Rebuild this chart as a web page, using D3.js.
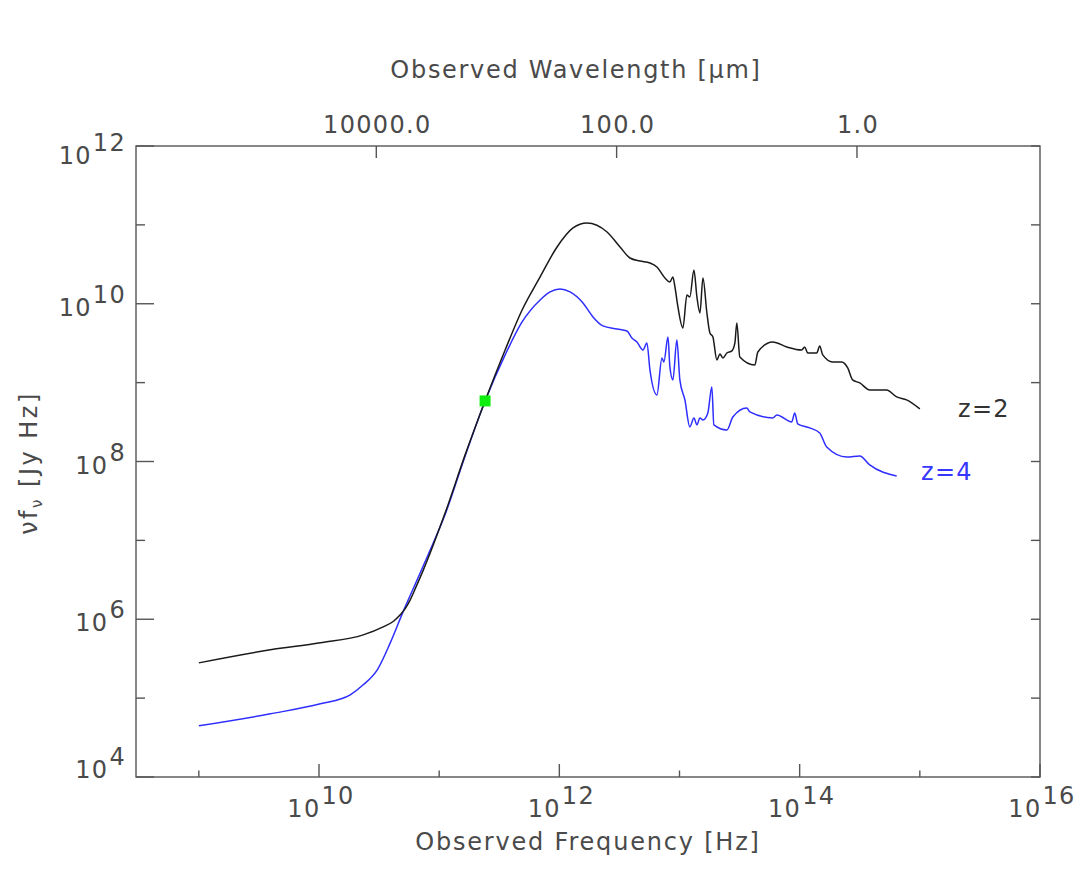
<!DOCTYPE html>
<html>
<head>
<meta charset="utf-8">
<script src="https://cdn.jsdelivr.net/npm/d3@7"></script>
<style>
  html, body { margin: 0; padding: 0; background: #ffffff; }
  svg { display: block; }
  text { font-family: "DejaVu Sans", sans-serif; fill: #4a4a4a; letter-spacing: 1.3px; }
</style>
</head>
<body>
<svg id="chart" width="1081" height="879"></svg>
<script>
// Spectral energy distribution of the same galaxy template placed at z=2 and z=4.
// Frequencies and fluxes are log10 values (Hz, Jy Hz).
const z2LogFreq = [9.000, 9.595, 10.011, 10.368, 10.534, 10.620, 10.676, 10.720, 10.759, 10.810, 10.867, 11.050, 11.216, 11.382, 11.549, 11.690, 11.840, 11.981, 12.114, 12.230, 12.397, 12.505, 12.588, 12.671, 12.754, 12.812, 12.879, 12.920, 12.945, 12.962, 12.987, 13.028, 13.062, 13.086, 13.120, 13.145, 13.170, 13.195, 13.228, 13.253, 13.278, 13.311, 13.336, 13.361, 13.394, 13.436, 13.461, 13.477, 13.502, 13.627, 13.652, 13.776, 13.893, 14.017, 14.042, 14.067, 14.142, 14.167, 14.192, 14.275, 14.350, 14.400, 14.441, 14.500, 14.583, 14.724, 14.807, 14.890, 15.000];
const z2LogFlux = [5.447, 5.612, 5.701, 5.802, 5.904, 5.975, 6.056, 6.140, 6.246, 6.420, 6.620, 7.349, 8.084, 8.768, 9.414, 9.921, 10.340, 10.720, 10.961, 11.024, 10.910, 10.720, 10.580, 10.542, 10.517, 10.466, 10.327, 10.276, 10.340, 10.213, 9.959, 9.693, 10.112, 10.086, 10.428, 10.086, 9.883, 10.327, 9.883, 9.630, 9.579, 9.288, 9.364, 9.313, 9.376, 9.402, 9.503, 9.757, 9.326, 9.224, 9.389, 9.516, 9.452, 9.414, 9.452, 9.376, 9.376, 9.465, 9.351, 9.262, 9.262, 9.186, 9.034, 8.996, 8.907, 8.907, 8.819, 8.781, 8.667];

const z4LogFreq = [9.000, 9.595, 10.011, 10.260, 10.368, 10.485, 10.593, 10.701, 10.817, 10.900, 11.050, 11.216, 11.382, 11.549, 11.690, 11.840, 11.923, 12.006, 12.089, 12.197, 12.280, 12.363, 12.480, 12.563, 12.604, 12.646, 12.696, 12.729, 12.754, 12.812, 12.854, 12.870, 12.904, 12.920, 12.945, 12.978, 13.003, 13.045, 13.086, 13.120, 13.145, 13.170, 13.195, 13.236, 13.269, 13.286, 13.394, 13.444, 13.560, 13.585, 13.776, 13.810, 13.934, 13.959, 13.984, 14.084, 14.167, 14.225, 14.392, 14.500, 14.583, 14.807];
const z4LogFlux = [4.649, 4.801, 4.928, 5.042, 5.169, 5.359, 5.701, 6.100, 6.500, 6.790, 7.330, 8.071, 8.768, 9.351, 9.769, 10.048, 10.150, 10.188, 10.150, 10.010, 9.833, 9.719, 9.681, 9.655, 9.567, 9.516, 9.414, 9.503, 9.161, 8.844, 9.313, 9.262, 9.579, 9.199, 9.034, 9.541, 9.034, 8.781, 8.439, 8.553, 8.464, 8.553, 8.527, 8.616, 8.946, 8.464, 8.400, 8.565, 8.679, 8.629, 8.553, 8.591, 8.502, 8.616, 8.477, 8.426, 8.362, 8.185, 8.058, 8.071, 7.957, 7.817];

// Observed point (log10 Hz, log10 Jy Hz)
const markerLogFreq = [11.382];
const markerLogFlux = [8.768];

const seriesLabels = ["z=2", "z=4"];

// Axis ticks
const freqMajorExp = [10, 12, 14, 16];
const freqMinorExp = [9, 11, 13, 15];
const fluxMajorExp = [4, 6, 8, 10, 12];
const fluxMinorExp = [5, 7, 9, 11];
const wavelengthTicks = [10000, 100, 1];
const wavelengthTickLabels = ["10000.0", "100.0", "1.0"];

const C_UM = 2.998e14; // speed of light in micron / s

const svg = d3.select("#chart");
const L = 136, R = 1040, T = 146, B = 777;
const axisColor = "#555";

const x = d3.scaleLog().domain([3e8, 1e16]).range([L, R]);
const y = d3.scaleLog().domain([1e4, 1e12]).range([B, T]);
const xWave = d3.scaleLog().domain([C_UM / 3e8, C_UM / 1e16]).range([L, R]);

// Frame
svg.append("rect")
  .attr("x", L).attr("y", T).attr("width", R - L).attr("height", B - T)
  .attr("fill", "none").attr("stroke", axisColor).attr("stroke-width", 1.4);

const ticks = svg.append("g").attr("stroke", axisColor).attr("stroke-width", 1.4);

// Bottom frequency ticks (inward)
freqMajorExp.forEach(e => {
  const px = x(Math.pow(10, e));
  ticks.append("line").attr("x1", px).attr("x2", px).attr("y1", B).attr("y2", B - 13);
});
freqMinorExp.forEach(e => {
  const px = x(Math.pow(10, e));
  ticks.append("line").attr("x1", px).attr("x2", px).attr("y1", B).attr("y2", B - 6.5);
});
// Top wavelength ticks
wavelengthTicks.forEach(w => {
  const px = xWave(w);
  ticks.append("line").attr("x1", px).attr("x2", px).attr("y1", T).attr("y2", T + 12);
});
// Left flux ticks
fluxMajorExp.forEach(e => {
  const py = y(Math.pow(10, e));
  ticks.append("line").attr("x1", L).attr("x2", L + 18).attr("y1", py).attr("y2", py);
});
fluxMinorExp.forEach(e => {
  const py = y(Math.pow(10, e));
  ticks.append("line").attr("x1", L).attr("x2", L + 9).attr("y1", py).attr("y2", py);
});
// Right ticks (all short)
fluxMajorExp.concat(fluxMinorExp).forEach(e => {
  const py = y(Math.pow(10, e));
  ticks.append("line").attr("x1", R).attr("x2", R - 9).attr("y1", py).attr("y2", py);
});

const FS = 24;

// Power-of-ten label helper
function powLabel(g, px, py, exp, anchor) {
  const t = g.append("text")
    .attr("x", px).attr("y", py)
    .attr("font-size", FS)
    .attr("text-anchor", anchor);
  t.append("tspan").text("10");
  t.append("tspan").attr("dy", -13).attr("dx", 1).text(String(exp));
  return t;
}

const labels = svg.append("g");
freqMajorExp.forEach(e => {
  powLabel(labels, x(Math.pow(10, e)) + 2, B + 40, e, "middle");
});
fluxMajorExp.forEach(e => {
  const py = y(Math.pow(10, e));
  const off = e === 12 ? 18 : (e === 4 ? 1 : 12);
  powLabel(labels, L - 10, py + off, e, "end");
});
wavelengthTicks.forEach((w, i) => {
  labels.append("text")
    .attr("x", xWave(w) + 1).attr("y", 133)
    .attr("font-size", FS).attr("text-anchor", "middle")
    .text(wavelengthTickLabels[i]);
});

// Axis titles
labels.append("text")
  .attr("x", 588).attr("y", 850)
  .attr("font-size", FS).attr("text-anchor", "middle")
  .style("letter-spacing", "1.8px")
  .text("Observed Frequency [Hz]");
labels.append("text")
  .attr("x", 576).attr("y", 78)
  .attr("font-size", FS).attr("text-anchor", "middle")
  .style("letter-spacing", "1.7px")
  .text("Observed Wavelength [μm]");
const yt = labels.append("text")
  .attr("transform", "translate(37,463) rotate(-90)")
  .attr("font-size", FS).attr("text-anchor", "middle")
  .style("letter-spacing", "2.5px");
yt.append("tspan").text("νf");
yt.append("tspan").attr("font-size", 15).attr("dy", 5).text("ν");
yt.append("tspan").attr("dy", -5).text(" [Jy Hz]");

// Curves
const line = d3.line()
  .x(d => x(Math.pow(10, d[0])))
  .y(d => y(Math.pow(10, d[1])))
  .curve(d3.curveMonotoneX);

const z2 = z2LogFreq.map((v, i) => [v, z2LogFlux[i]]);
const z4 = z4LogFreq.map((v, i) => [v, z4LogFlux[i]]);

svg.append("path").datum(z4)
  .attr("d", line).attr("fill", "none")
  .attr("stroke", "#2e2eff").attr("stroke-width", 1.5);
svg.append("path").datum(z2)
  .attr("d", line).attr("fill", "none")
  .attr("stroke", "#1a1a1a").attr("stroke-width", 1.5);

// Marker
svg.selectAll("rect.marker")
  .data(markerLogFreq.map((v, i) => [v, markerLogFlux[i]]))
  .enter().append("rect").attr("class", "marker")
  .attr("x", d => x(Math.pow(10, d[0])) - 5.5)
  .attr("y", d => y(Math.pow(10, d[1])) - 5.5)
  .attr("width", 11).attr("height", 11)
  .attr("fill", "#10ee10");

// Series labels
labels.append("text")
  .attr("x", 958).attr("y", 417)
  .attr("font-size", FS).style("fill", "#333")
  .text(seriesLabels[0]);
labels.append("text")
  .attr("x", 921).attr("y", 480)
  .attr("font-size", FS).style("fill", "#3636ff")
  .text(seriesLabels[1]);
</script>
</body>
</html>
